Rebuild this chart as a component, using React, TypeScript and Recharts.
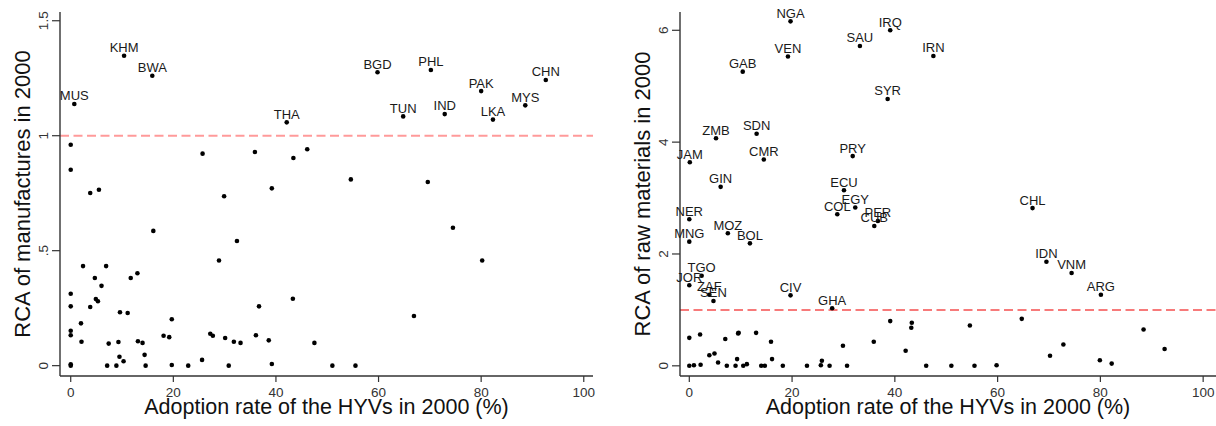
import React from 'react';
import { ScatterChart, Scatter, XAxis, YAxis, ReferenceLine, Label } from 'recharts';

const FONT = '"Liberation Sans", Arial, Helvetica, sans-serif';

// ---- Left panel: RCA of manufactures vs HYV adoption ----
const manuLabeled: [string, number, number][] = [
  ['MUS', 0.7, 1.138], ['KHM', 10.4, 1.348], ['BWA', 15.9, 1.261], ['THA', 42.1, 1.058],
  ['BGD', 59.8, 1.276], ['PHL', 70.2, 1.286], ['PAK', 80.0, 1.194], ['CHN', 92.6, 1.242],
  ['TUN', 64.8, 1.084], ['IND', 72.9, 1.094], ['LKA', 82.3, 1.07], ['MYS', 88.6, 1.132],
];
const manuOthers: [number, number][] = [
  [0, 0.961], [0, 0.852], [3.8, 0.751], [5.5, 0.765], [25.7, 0.922], [29.9, 0.737], [35.9, 0.929],
  [39.2, 0.771], [43.4, 0.903], [46.1, 0.941], [54.6, 0.81], [69.6, 0.799], [74.5, 0.6], [80.2, 0.457],
  [43.3, 0.291], [66.9, 0.216], [47.5, 0.099], [51.0, 0.0], [55.5, 0.0], [16.1, 0.586], [32.4, 0.542],
  [28.9, 0.457], [36.7, 0.258], [2.4, 0.433], [6.9, 0.433], [4.7, 0.381], [11.7, 0.381], [13.0, 0.402],
  [6.0, 0.347], [0, 0.313], [0, 0.258], [3.8, 0.255], [4.9, 0.29], [5.3, 0.28], [9.6, 0.232],
  [11.1, 0.229], [19.7, 0.202], [2.0, 0.184], [0, 0.152], [0, 0.132], [2.1, 0.104], [7.4, 0.096],
  [9.3, 0.103], [13.1, 0.106], [14.0, 0.099], [18.1, 0.13], [19.2, 0.124], [27.2, 0.139], [27.7, 0.13],
  [30.1, 0.12], [31.8, 0.104], [33.1, 0.099], [36.1, 0.132], [38.6, 0.11], [9.5, 0.039], [10.3, 0.019],
  [14.4, 0.047], [25.6, 0.025], [0, 0.006], [0, 0.0], [7.1, 0], [8.9, 0], [14.6, 0], [19.7, 0.003],
  [22.9, 0], [30.8, 0], [39.2, 0.007],
];
const manuYTicks = [0, 0.5, 1, 1.5];
const manuYTickLabels = ['0', '.5', '1', '1.5'];

// ---- Right panel: RCA of raw materials vs HYV adoption ----
const rawLabeled: [string, number, number][] = [
  ['NGA', 19.7, 6.16], ['IRQ', 39.1, 6.0], ['SAU', 33.2, 5.72], ['VEN', 19.2, 5.53], ['IRN', 47.5, 5.54],
  ['GAB', 10.4, 5.26], ['SYR', 38.6, 4.77], ['ZMB', 5.2, 4.07], ['SDN', 13.1, 4.15], ['JAM', 0.1, 3.64],
  ['CMR', 14.5, 3.69], ['PRY', 31.8, 3.75], ['GIN', 6.1, 3.2], ['ECU', 30.1, 3.14], ['EGY', 32.3, 2.83],
  ['COL', 28.8, 2.71], ['PER', 36.7, 2.59], ['CUB', 36.0, 2.5], ['CHL', 66.8, 2.82], ['NER', 0, 2.62],
  ['MNG', 0, 2.22], ['MOZ', 7.5, 2.37], ['BOL', 11.8, 2.19], ['TGO', 2.4, 1.61], ['JOR', 0, 1.44],
  ['ZAF', 3.9, 1.27], ['SEN', 4.7, 1.16], ['CIV', 19.7, 1.26], ['GHA', 27.8, 1.03], ['IDN', 69.5, 1.86],
  ['VNM', 74.4, 1.66], ['ARG', 80.1, 1.27],
];
const rawOthers: [number, number][] = [
  [0, 0.5], [2.1, 0.56], [7.0, 0.48], [9.6, 0.59], [9.5, 0.58], [13.0, 0.59], [15.9, 0.43], [3.9, 0.19],
  [4.9, 0.22], [5.6, 0.06], [9.3, 0.12], [16.1, 0.12], [0, 0], [0.9, 0.01], [2.2, 0.02], [7.3, 0],
  [9.0, 0], [10.5, 0], [11.2, 0.03], [14.0, 0], [14.7, 0], [18.2, 0], [22.9, 0], [25.6, 0.01],
  [25.8, 0.09], [27.3, 0], [29.9, 0.36], [30.7, 0], [35.9, 0.43], [39.1, 0.8], [42.1, 0.27], [43.3, 0.77],
  [43.2, 0.68], [46.1, 0], [51.0, 0], [54.6, 0.72], [55.5, 0], [59.8, 0.01], [64.7, 0.84], [70.2, 0.18],
  [72.8, 0.38], [79.9, 0.1], [82.2, 0.04], [88.4, 0.65], [92.5, 0.3],
];
const rawYTicks = [0, 2, 4, 6];
const rawYTickLabels = ['0', '2', '4', '6'];

const xTicks = [0, 20, 40, 60, 80, 100];
const xTitle = 'Adoption rate of the HYVs in 2000 (%)';
const manuTitle = 'RCA of manufactures in 2000';
const rawTitle = 'RCA of raw materials in 2000';

const AXIS = '#333';

const Dot = (props: any) => {
  const { cx, cy, payload } = props;
  if (cx == null || cy == null) return null;
  return (
    <g>
      <circle cx={cx} cy={cy} r={2.3} fill="#000" />
      {payload.code ? (
        <text x={cx} y={cy - 3.6} textAnchor="middle" fontSize={13} fontFamily={FONT} fill="#1a1a1a">
          {payload.code}
        </text>
      ) : null}
    </g>
  );
};

const makeYTick = (ticks: number[], labels: string[]) => (props: any) => {
  const { x, y, payload } = props;
  const i = ticks.indexOf(payload.value);
  return (
    <text x={x} y={y} transform={`rotate(-90 ${x} ${y})`} textAnchor="middle" fontSize={13.5} fontFamily={FONT} fill={AXIS}>
      {i >= 0 ? labels[i] : String(payload.value)}
    </text>
  );
};

const XTitle = (props: any) => {
  const vb = props.viewBox || {};
  return (
    <text x={vb.x + vb.width / 2} y={vb.y + vb.height - 12} textAnchor="middle" fontSize={21.5} fontFamily={FONT} fill="#111">
      {xTitle}
    </text>
  );
};

const makeYTitle = (title: string) => (props: any) => {
  const vb = props.viewBox || {};
  const x = vb.x + vb.width - 30;
  const y = vb.y + vb.height / 2;
  return (
    <text x={x} y={y} transform={`rotate(-90 ${x} ${y})`} textAnchor="middle" fontSize={22} fontFamily={FONT} fill="#111">
      {title}
    </text>
  );
};

type PanelProps = {
  width: number;
  yAxisWidth: number;
  rightMargin: number;
  labeled: [string, number, number][];
  others: [number, number][];
  xDomain: [number, number];
  yDomain: [number, number];
  yTicks: number[];
  yTickLabels: string[];
  yTitle: string;
  lineColor: string;
};

function Panel(p: PanelProps) {
  const data = [
    ...p.others.map(([x, y]) => ({ x, y, code: '' })),
    ...p.labeled.map(([code, x, y]) => ({ x, y, code })),
  ];
  return (
    <ScatterChart width={p.width} height={426} margin={{ top: 12, right: p.rightMargin, bottom: 0, left: 0 }}>
      <XAxis
        type="number"
        dataKey="x"
        domain={p.xDomain}
        ticks={xTicks}
        height={50}
        tickSize={6}
        tickMargin={5}
        axisLine={{ stroke: AXIS, strokeWidth: 1.4 }}
        tickLine={{ stroke: AXIS, strokeWidth: 1.2 }}
        tick={{ fill: AXIS, fontSize: 13.5, fontFamily: FONT }}
        interval={0}
      >
        <Label content={XTitle} />
      </XAxis>
      <YAxis
        type="number"
        dataKey="y"
        domain={p.yDomain}
        ticks={p.yTicks}
        width={p.yAxisWidth}
        tickSize={8}
        tickMargin={4}
        axisLine={{ stroke: AXIS, strokeWidth: 1.4 }}
        tickLine={{ stroke: AXIS, strokeWidth: 1.2 }}
        tick={makeYTick(p.yTicks, p.yTickLabels)}
        interval={0}
      >
        <Label content={makeYTitle(p.yTitle)} />
      </YAxis>
      <ReferenceLine y={1} stroke={p.lineColor} strokeDasharray="9 4.5" strokeWidth={2} />
      <Scatter data={data} shape={Dot} isAnimationActive={false} />
    </ScatterChart>
  );
}

export default function App() {
  return (
    <div style={{ position: 'absolute', left: 0, top: 0, width: 1216, height: 426, display: 'flex', background: '#fff' }}>
      <Panel
        width={600}
        yAxisWidth={60}
        rightMargin={7}
        labeled={manuLabeled}
        others={manuOthers}
        xDomain={[-2.09, 101.8]}
        yDomain={[-0.045, 1.538]}
        yTicks={manuYTicks}
        yTickLabels={manuYTickLabels}
        yTitle={manuTitle}
        lineColor="#ff9a9a"
      />
      <Panel
        width={616}
        yAxisWidth={80}
        rightMargin={0}
        labeled={rawLabeled}
        others={rawOthers}
        xDomain={[-1.81, 102.5]}
        yDomain={[-0.182, 6.327]}
        yTicks={rawYTicks}
        yTickLabels={rawYTickLabels}
        yTitle={rawTitle}
        lineColor="#f77a7a"
      />
    </div>
  );
}
